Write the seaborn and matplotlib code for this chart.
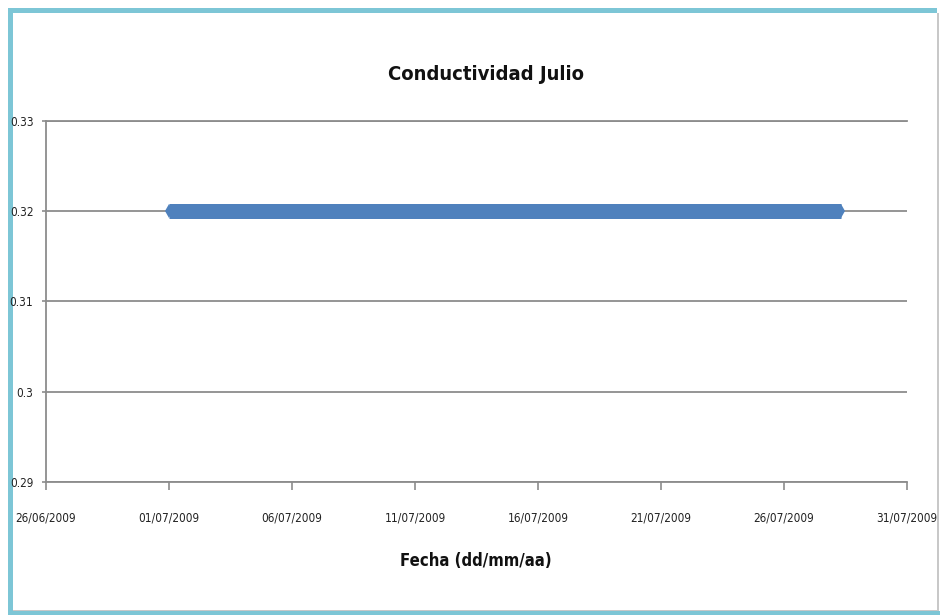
import matplotlib
matplotlib.use("Agg")
import matplotlib.pyplot as plt
from matplotlib.patches import Rectangle
import pandas as pd
import seaborn as sns

# Conductivity readings for July 2009 (first and last reading of the month)
fechas = ["2009-07-01 00:00", "2009-07-28 08:00"]
conductividad = [0.32, 0.32]

# Axis ticks
x_ticks = ["2009-06-26", "2009-07-01", "2009-07-06", "2009-07-11",
           "2009-07-16", "2009-07-21", "2009-07-26", "2009-07-31"]
x_tick_labels = ["26/06/2009", "01/07/2009", "06/07/2009", "11/07/2009",
                 "16/07/2009", "21/07/2009", "26/07/2009", "31/07/2009"]
y_ticks = [0.29, 0.30, 0.31, 0.32, 0.33]
y_tick_labels = ["0.29", "0.3", "0.31", "0.32", "0.33"]

titulo = "Conductividad Julio"
etiqueta_x = "Fecha (dd/mm/aa)"

sns.set_style("white")
plt.rcParams["font.family"] = ["DejaVu Sans"]
plt.rcParams["font.stretch"] = "condensed"

df = pd.DataFrame({"fecha": pd.to_datetime(fechas), "valor": conductividad})

fig = plt.figure(figsize=(9.4, 6.15), dpi=100)
fig.patch.set_facecolor("white")

# Window-like frame around the chart
frame_col = "#7DC6D6"
frame = [
    ((8 / 940, 0), 5 / 940, 1 - 8 / 615, frame_col),
    ((8 / 940, 1 - 13 / 615), 929 / 940, 5 / 615, frame_col),
    ((8 / 940, 0), 932 / 940, 4 / 615, frame_col),
    ((13 / 940, 4 / 615), 924 / 940, 1.5 / 615, "#C8C8C8"),
    ((937 / 940, 4 / 615), 1.5 / 940, 598 / 615, "#C8C8C8"),
]
for xy, w, h, col in frame:
    fig.add_artist(Rectangle(xy, w, h, transform=fig.transFigure,
                             facecolor=col, edgecolor="none", zorder=-1))

ax = fig.add_axes([46 / 940, 1 - 482 / 615, (907 - 46) / 940, (482 - 121) / 615])

sns.lineplot(data=df, x="fecha", y="valor", ax=ax, color="#4F81BD",
             linewidth=10.8, solid_capstyle="butt", marker="d",
             markersize=7.6, markeredgewidth=0, zorder=3)

x_dt = pd.to_datetime(x_ticks)
ax.set_xlim(x_dt[0], x_dt[-1])
ax.set_ylim(0.29, 0.33)
ax.set_xticks(x_dt)
ax.set_xticklabels(x_tick_labels)
ax.set_yticks(y_ticks)
ax.set_yticklabels(y_tick_labels)

grid_col = "#8C8C8C"
ax.grid(axis="y", color=grid_col, linewidth=1.3)
ax.grid(axis="x", visible=False)
ax.set_axisbelow(True)
for side in ["left", "bottom", "top"]:
    ax.spines[side].set_color(grid_col)
    ax.spines[side].set_linewidth(1.3)
ax.spines["right"].set_visible(False)

ax.tick_params(axis="x", direction="out", length=6, width=1.2, color=grid_col,
               pad=15, labelsize=8.5, labelcolor="#222222", bottom=True)
ax.tick_params(axis="y", direction="out", length=3, width=1.2, color=grid_col,
               pad=6, labelsize=8.5, labelcolor="#222222", left=True)
ax.set_xlabel("")
ax.set_ylabel("")

fig.text(486 / 940, 1 - 75 / 615, titulo, ha="center", va="center",
         fontsize=14.5, fontweight="bold", color="#111111")
fig.text(476 / 940, 1 - 561 / 615, etiqueta_x, ha="center", va="center",
         fontsize=12, fontweight="bold", color="#111111")

fig.savefig("out.png", dpi=100, facecolor="white")
